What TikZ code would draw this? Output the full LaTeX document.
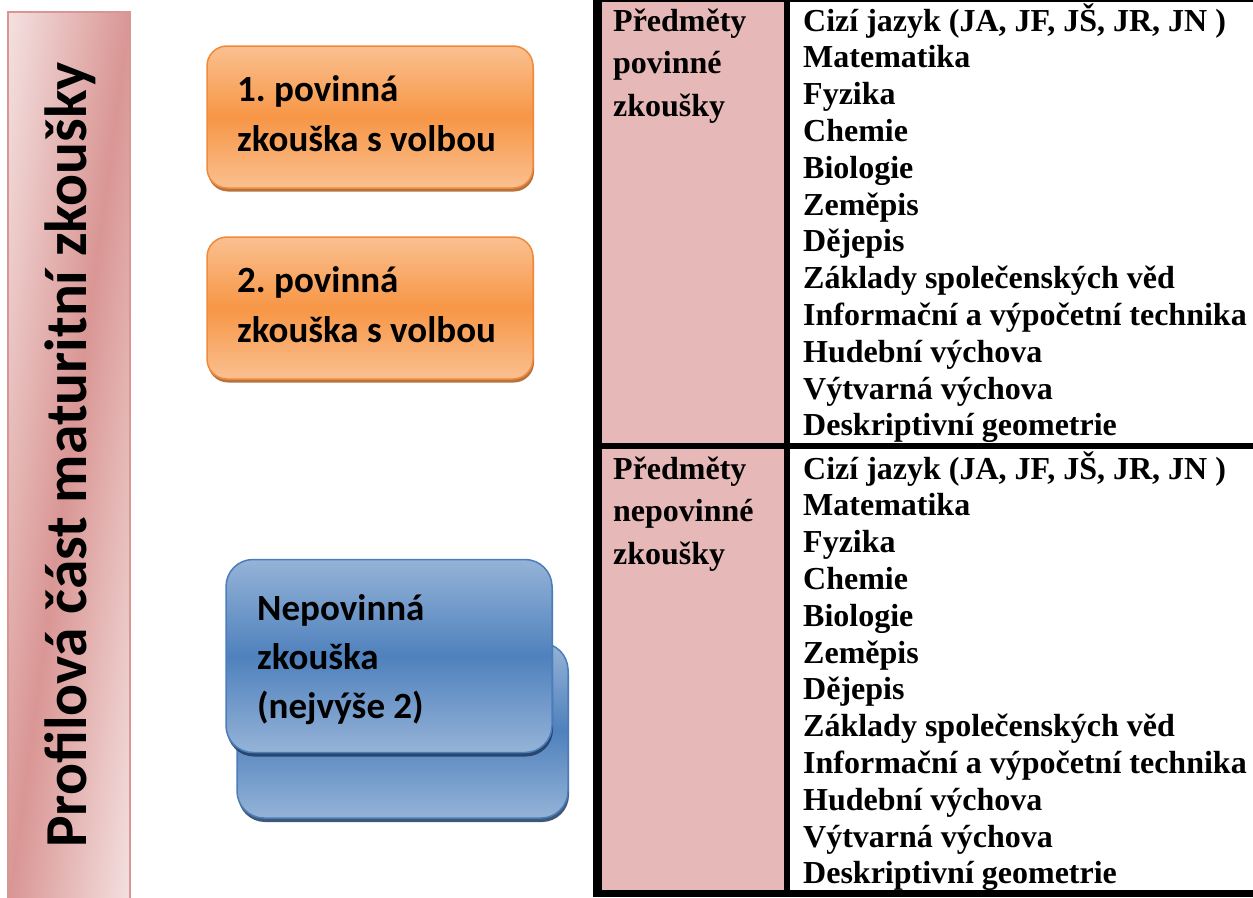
\documentclass[tikz,border=0pt]{standalone}
\usepackage{fontspec}
\newfontfamily\calibrifont{Carlito}
\newfontfamily\timesfont{Liberation Serif}
\usetikzlibrary{shadows}
\definecolor{pinkL}{HTML}{F4E2E1}
\definecolor{pinkD}{HTML}{D99694}
\definecolor{cellpink}{HTML}{E6B8B7}
\definecolor{orTop}{HTML}{FAC090}
\definecolor{orMid}{HTML}{F79646}
\definecolor{orLine}{HTML}{F08A3A}
\definecolor{orShadow}{HTML}{A85A1C}
\definecolor{blTop}{HTML}{95B3D7}
\definecolor{blMid}{HTML}{4F81BD}
\definecolor{blLine}{HTML}{4A7EBB}
\definecolor{blShadow}{HTML}{1F3A5F}
\begin{document}
\begin{tikzpicture}[x=1pt,y=-1pt,
  obox/.style={draw=orLine, line width=1.5pt, rounded corners=20pt,
    top color=orTop, bottom color=orTop, middle color=orMid,
    drop shadow={shadow xshift=1pt, shadow yshift=-3.5pt, fill=orShadow, opacity=0.85},
    minimum width=326pt, minimum height=142pt},
  bbox/.style={draw=blLine, line width=1.5pt, rounded corners=27pt,
    top color=blTop, bottom color=blTop, middle color=blMid,
    drop shadow={shadow xshift=1pt, shadow yshift=-4pt, fill=blShadow, opacity=0.85}},
  btext/.style={anchor=base west, inner sep=0pt,
    font=\calibrifont\bfseries\fontsize{37}{44}\selectfont},
  item/.style={anchor=base west, inner sep=0pt,
    font=\timesfont\bfseries\fontsize{32}{36}\selectfont},
  title/.style={rotate=90, anchor=base, inner sep=0pt,
    font=\calibrifont\bfseries\fontsize{59.5}{70}\selectfont}]
\useasboundingbox (0,0) rectangle (1253,897);
% left bar with diagonal gradient
\begin{scope}
  \clip (8,12) rectangle (130,910);
  \begin{scope}[transform canvas={shift={(69pt,-461pt)}, rotate=-7.74}]
    \fill[left color=pinkL, right color=pinkL, middle color=pinkD] (-122,-470) rectangle (122,470);
  \end{scope}
\end{scope}
\draw[pinkD, line width=2pt] (8,12) rectangle (130,910);
\node[title] (title) at (86,455) {Profilová část maturitní zkoušky};
% orange boxes
\node[obox] (o1) at (370,117) {};
\node[btext] (o1a) at (237,101) {1.\ povinná};
\node[btext] (o1b) at (237,151) {zkouška s volbou};
\node[obox] (o2) at (370,308) {};
\node[btext] (o2a) at (237,292) {2.\ povinná};
\node[btext] (o2b) at (237,342) {zkouška s volbou};
% blue boxes
\node[bbox, minimum width=331pt, minimum height=175pt] (b2) at (402.5,730.5) {};
\node[bbox, minimum width=326pt, minimum height=193pt] (b1) at (389,656) {};
\node[btext] (b1a) at (257,620) {Nepovinná};
\node[btext] (b1b) at (257,669) {zkouška};
\node[btext] (b1c) at (257,718) {(nejvýše 2)};
% table
\fill[black] (593,-5) rectangle (1260,897);
\fill[cellpink] (602,2) rectangle (784,443);
\fill[cellpink] (602,449) rectangle (784,890);
\fill[white] (790,2) rectangle (1260,443);
\fill[white] (790,449) rectangle (1260,890);
\node[item] (h1) at (613,31) {Předměty};
\node[item] (h2) at (613,73.5) {povinné};
\node[item] (h3) at (613,116) {zkoušky};
\node[item] (h4) at (613,479) {Předměty};
\node[item] (h5) at (613,521.5) {nepovinné};
\node[item] (h6) at (613,564) {zkoušky};
\foreach \t [count=\i from 0] in {{Cizí jazyk (JA, JF, JŠ, JR, JN )}, Matematika, Fyzika, Chemie, Biologie, Zeměpis, Dějepis, Základy společenských věd, Informační a výpočetní technika, Hudební výchova, Výtvarná výchova, Deskriptivní geometrie}{
  \node[item] (a\i) at (803,{31+\i*36.8}) {\t};
  \node[item] (c\i) at (803,{479+\i*36.8}) {\t};
}
\end{tikzpicture}
\end{document}
